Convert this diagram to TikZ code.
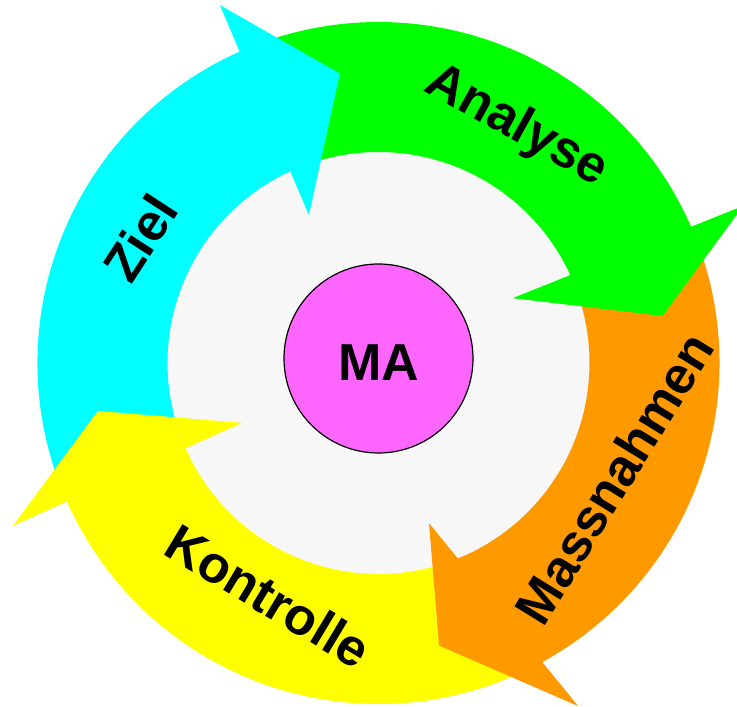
\documentclass[tikz,border=0pt]{standalone}
\usepackage{fontspec}
\setmainfont{Liberation Sans}
\definecolor{zielcyan}{RGB}{0, 255, 255}
\definecolor{analysegreen}{RGB}{0, 255, 0}
\definecolor{massorange}{RGB}{255, 153, 0}
\definecolor{kontrollyellow}{RGB}{255, 255, 0}
\definecolor{mapink}{RGB}{255, 102, 255}
\definecolor{coregray}{RGB}{247, 247, 247}

% ring body: colour, tail outer/inner angle, end outer/inner angle
\newcommand{\ringbody}[5]{%
  \fill[#1] (#2:341pt) arc[start angle=#2, end angle=#4, radius=341pt]
    -- (#5:211pt) arc[start angle=#5, end angle=#3, radius=211pt] -- cycle;}
% arrow head: colour, outer barb, tip, inner barb
\newcommand{\ringhead}[4]{\fill[#1] (#2) -- (#3) -- (#4) -- cycle;}

\begin{document}
\begin{tikzpicture}[x=1pt, y=1pt,
  steplabel/.style={font=\bfseries\fontsize{52}{62}\selectfont, inner sep=0pt},
  mabubble/.style={draw=black, fill=mapink, circle, minimum size=189pt, line width=1.2pt, inner sep=0pt}]
  \fill[white] (-378.5, -344) rectangle (358.5, 363);
  \useasboundingbox (-378.5, -344) rectangle (358.5, 363);

  % Inner disk
  \fill[coregray] (0, 0) circle[radius=215pt];

  % Arrow bodies (each tail starts under the previous head)
  \ringbody{zielcyan}{202.3}{202.4}{112.6}{113.7}
  \ringbody{analysegreen}{112.6}{113.7}{22}{23}
  \ringbody{massorange}{22}{23}{-62.1}{-69}
  \ringbody{kontrollyellow}{297.9}{291}{202.3}{202.4}

  % Arrow heads
  \ringhead{zielcyan}{113.9:391.5pt}{97.6:292pt}{115.2:163.5pt}
  \ringhead{analysegreen}{23.3:397pt}{9.4:288pt}{25.8:149pt}
  \ringhead{massorange}{-59.8:397pt}{-77.9:289pt}{-72.5:168pt}
  \ringhead{kontrollyellow}{204:400pt}{189.7:284.6pt}{203.7:149pt}

  % Labels
  \node[steplabel, rotate=57] (ziel) at (-238.5, 125) {Ziel};
  \node[steplabel, rotate=-29] (analyse) at (138, 236.3) {Analyse};
  \node[steplabel, rotate=58.4] (massnahmen) at (235.5, -115) {Massnahmen};
  \node[steplabel, rotate=-31] (kontrolle) at (-110, -233) {Kontrolle};

  % Center
  \node[mabubble] (ma) at (0, 4.5) {};
  \node[steplabel] (malabel) at (0, 0) {MA};
\end{tikzpicture}
\end{document}
